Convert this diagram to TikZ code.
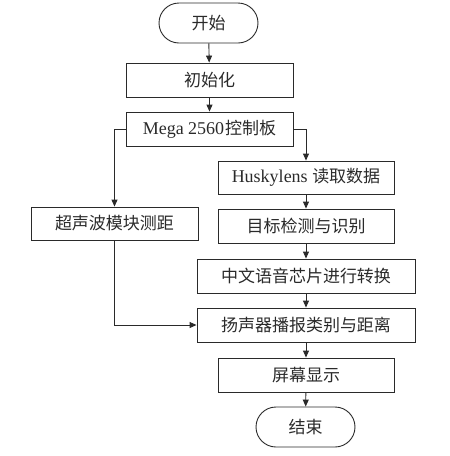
\documentclass[tikz,border=0pt]{standalone}
\usepackage{fontspec}
\setmainfont{Liberation Serif}
\newfontfamily\cjk{Noto Sans CJK SC}
\usetikzlibrary{arrows.meta,positioning}
\definecolor{ink}{HTML}{2A2A2A}
\begin{document}
\begin{tikzpicture}[x=1pt,y=-1pt,
  every node/.style={text=ink,font=\fontsize{17}{19}\selectfont\cjk},
  procbox/.style={draw=ink,line width=0.9pt,rectangle,inner sep=0pt,anchor=center},
  termbox/.style={draw=ink,line width=0.9pt,rounded corners=20pt,minimum width=99pt,minimum height=40pt},
  flow/.style={draw=ink,line width=0.9pt,-{Triangle[length=7pt,width=6pt]}}]
\useasboundingbox (0,0) rectangle (450,456);
\node[termbox] (start) at (208.5,23) {开始};
\node[procbox,minimum width=167pt,minimum height=34pt] (init) at (209.5,80) {初始化};
\node[procbox,minimum width=167pt,minimum height=34pt] (mega) at (209.5,129) {{\rmfamily\fontsize{18}{19}\selectfont Mega 2560}\kern1pt控制板};
\node[procbox,minimum width=176pt,minimum height=33pt] (husky) at (306,177.5) {{\rmfamily\fontsize{18}{19}\selectfont Huskylens }读取数据};
\node[procbox,minimum width=167pt,minimum height=33pt] (ultra) at (114.5,223.5) {超声波模块测距};
\node[procbox,minimum width=176pt,minimum height=34pt] (detect) at (306,226) {目标检测与识别};
\node[procbox,minimum width=218pt,minimum height=34pt] (voice) at (306,276) {中文语音芯片进行转换};
\node[procbox,minimum width=218pt,minimum height=34pt] (speak) at (306,325) {扬声器播报类别与距离};
\node[procbox,minimum width=176pt,minimum height=34pt] (screen) at (306,375) {屏幕显示};
\node[termbox] (end) at (305.5,427) {结束};
\draw[flow] (start) -- (init);
\draw[flow] (init) -- (mega);
\draw[flow] (mega.west) -| (ultra.north);
\draw[flow] (mega.east) -| (husky.north);
\draw[flow] (husky) -- (detect);
\draw[flow] (detect) -- (voice);
\draw[flow] (voice) -- (speak);
\draw[flow] (ultra.south) |- (speak.west);
\draw[flow] (speak) -- (screen);
\draw[flow] (screen) -- (end);
\end{tikzpicture}
\end{document}
